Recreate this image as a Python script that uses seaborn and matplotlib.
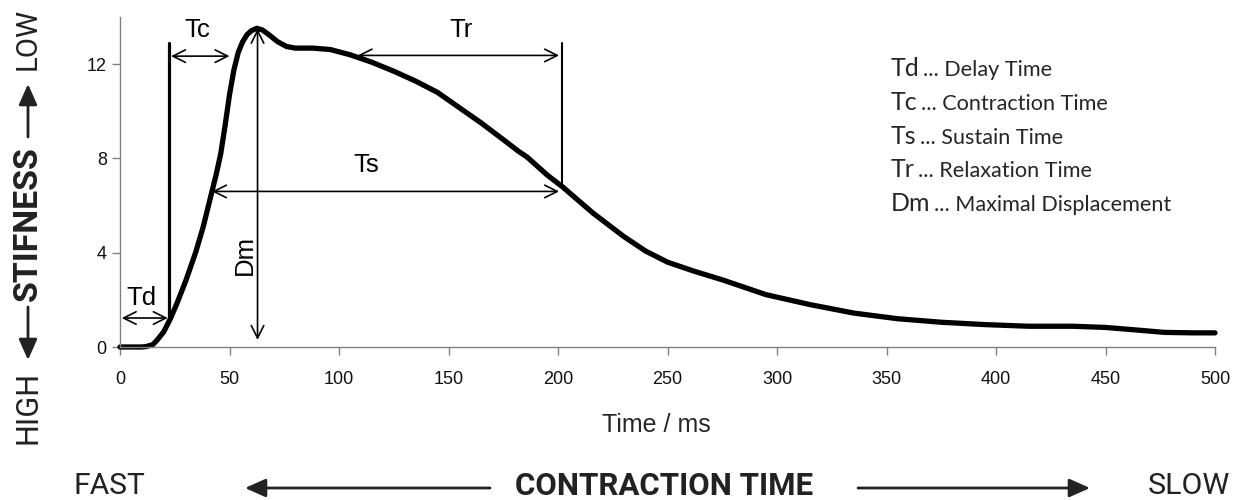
import matplotlib
matplotlib.use("Agg")
import matplotlib.pyplot as plt
from matplotlib.patches import FancyArrowPatch
import seaborn as sns
import pandas as pd

# twitch response curve
time_ms = [0, 5, 10, 12, 15, 17, 20, 23, 26, 30, 34.5, 38, 42, 44, 46, 48, 50, 52, 54, 56, 58,
           60, 62.5, 65, 68, 72, 76, 80, 88, 96, 105, 115, 125, 135, 145, 155, 165, 175, 182,
           186, 195, 202, 216, 230, 240, 250, 262, 275, 295, 315, 335, 355, 375, 395, 415, 435,
           450, 463, 477, 490, 500]
stiffness = [0, 0, 0, 0.02, 0.1, 0.3, 0.65, 1.2, 1.85, 2.8, 4.0, 5.1, 6.6, 7.35, 8.2, 9.4,
             10.7, 11.75, 12.5, 12.95, 13.25, 13.42, 13.52, 13.45, 13.25, 12.95, 12.75, 12.68,
             12.68, 12.62, 12.4, 12.08, 11.7, 11.28, 10.8, 10.15, 9.5, 8.8, 8.3, 8.05, 7.3,
             6.8, 5.68, 4.69, 4.07, 3.6, 3.22, 2.85, 2.22, 1.8, 1.44, 1.2, 1.05, 0.95, 0.88,
             0.88, 0.83, 0.73, 0.62, 0.6, 0.6]

x_ticks = [0, 50, 100, 150, 200, 250, 300, 350, 400, 450, 500]
y_ticks = [0, 4, 8, 12]

legend_abbr = ["Td", "Tc", "Ts", "Tr", "Dm"]
legend_desc = ["... Delay Time", "... Contraction Time", "... Sustain Time",
               "... Relaxation Time", "... Maximal Displacement"]

df = pd.DataFrame({"time": time_ms, "stiffness": stiffness})

sns.set_style("ticks")
plt.rcParams["font.family"] = ["Liberation Sans", "DejaVu Sans"]

W, H = 1241, 500
fig = plt.figure(figsize=(W / 100, H / 100), dpi=100)


def fx(px):
    return px / W


def fy(py):
    return 1 - py / H


ax = fig.add_axes([fx(120), fy(347), (1215 - 120) / W, (347 - 17) / H])
sns.lineplot(data=df, x="time", y="stiffness", ax=ax, color="black", lw=3.8,
             solid_capstyle="round", clip_on=False)

ax.set_xlim(0, 500)
ax.set_ylim(0, 14)
ax.set_xticks(x_ticks)
ax.set_yticks(y_ticks)
ax.set_xlabel("")
ax.set_ylabel("")
sns.despine(ax=ax)
for s in ["left", "bottom"]:
    ax.spines[s].set_color("#808080")
    ax.spines[s].set_linewidth(1.0)
ax.tick_params(colors="#808080", labelcolor="#111111", labelsize=13, length=6, width=1)
ax.tick_params(axis="x", pad=11)

# annotation arrows
arr = dict(arrowstyle="<->,head_length=0.9,head_width=0.45", color="black", lw=1.2,
           shrinkA=0, shrinkB=0, mutation_scale=10)


def darrow(x0, y0, x1, y1):
    ax.annotate("", xy=(x1, y1), xytext=(x0, y0), arrowprops=arr, annotation_clip=False)


darrow(0.8, 1.23, 21.8, 1.23)          # Td
darrow(23.3, 12.34, 50.0, 12.34)       # Tc
darrow(62.8, 13.5, 62.8, 0.3)          # Dm
darrow(42.0, 6.6, 200.5, 6.6)          # Ts
darrow(108.5, 12.37, 200.5, 12.37)     # Tr

ax.plot([22.4, 22.4], [1.2, 12.9], color="black", lw=2.3, clip_on=False)
ax.plot([201.6, 201.6], [6.8, 12.9], color="black", lw=1.5, clip_on=False)

lab = dict(fontsize=18.5, color="black", ha="center", va="center")
ax.text(9.6, 2.08, "Td", **lab)
ax.text(35.2, 13.44, "Tc", **lab)
ax.text(112.3, 7.72, "Ts", **lab)
ax.text(155.7, 13.44, "Tr", **lab)
ax.text(57.0, 3.9, "Dm", rotation=90, **lab)

fig.text(fx(656), fy(425), "Time / ms", fontsize=18, ha="center", va="center")

fig.canvas.draw()
rend = fig.canvas.get_renderer()

# legend block
leg_font = ["Lato", "Open Sans", "DejaVu Sans"]
for i, (a, d) in enumerate(zip(legend_abbr, legend_desc)):
    yb = 76 + i * 33.8
    t = fig.text(fx(891), fy(yb), a, fontsize=18, family=leg_font, va="baseline", ha="left")
    bb = t.get_window_extent(rend)
    fig.text((bb.x1 + 3) / W, fy(yb), d, fontsize=15.6, family=leg_font, va="baseline",
             ha="left")

# condensed-style labels, sized so their length matches the reference
cond = ["Roboto", "DejaVu Sans"]


def fit_text(x, y, s, length, rot=0, weight="normal"):
    t = fig.text(x, y, s, fontsize=20, family=cond, weight=weight, ha="center", va="center",
                 color="#222222")
    w = t.get_window_extent(rend).width
    t.set_fontsize(20 * length / w)
    t.set_rotation(rot)
    return t


fit_text(fx(28), fy(39), "LOW", 62, rot=90)
fit_text(fx(28), fy(224), "STIFNESS", 155, rot=90, weight="bold")
fit_text(fx(28), fy(407), "HIGH", 73, rot=90)
fit_text(fx(109), fy(486), "FAST", 72)
fit_text(fx(664), fy(486), "CONTRACTION TIME", 297, weight="bold")
fit_text(fx(1189), fy(486), "SLOW", 82)

fat = dict(arrowstyle="-|>,head_length=0.9,head_width=0.4", color="#222222", lw=2.0,
           shrinkA=0, shrinkB=0, mutation_scale=14)


def side_arrow(p0, p1):
    fig.add_artist(FancyArrowPatch((fx(p0[0]), fy(p0[1])), (fx(p1[0]), fy(p1[1])),
                                   transform=fig.transFigure, **fat))


side_arrow((28, 137), (28, 84))
side_arrow((28, 307), (28, 360))
side_arrow((490, 488), (245, 488))
side_arrow((858, 488), (1090, 488))

fig.savefig("out.png", dpi=100)
